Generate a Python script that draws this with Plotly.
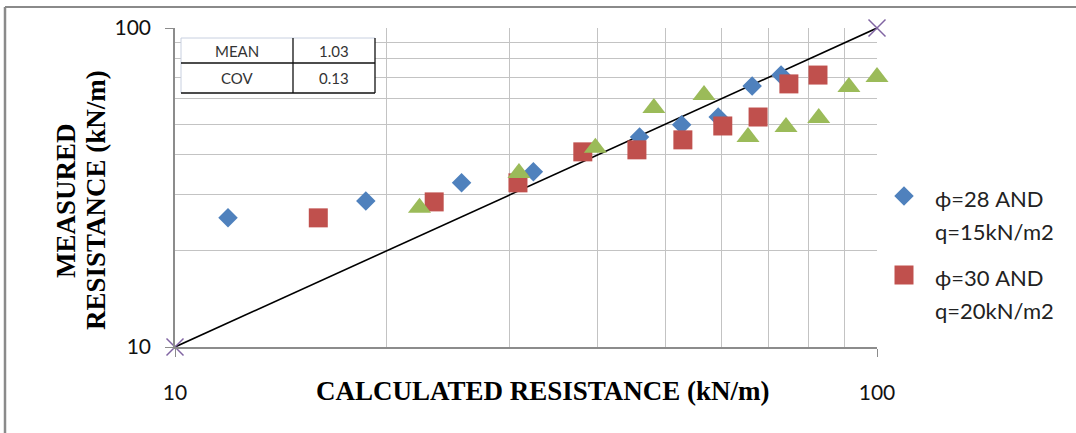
import plotly.graph_objects as go

# ---- data ----
calc_28 = [11.9, 18.7, 25.6, 32.4, 45.9, 52.7, 59.4, 66.4, 73.0]
meas_28 = [25.4, 28.7, 32.7, 35.4, 45.5, 49.7, 52.6, 65.8, 71.2]
calc_30 = [16.0, 23.4, 30.8, 38.1, 45.5, 52.9, 60.3, 67.7, 74.9, 82.4]
meas_30 = [25.4, 28.5, 32.7, 40.9, 41.5, 44.6, 49.3, 52.6, 66.8, 71.2]
calc_32 = [22.3, 30.9, 39.7, 48.1, 56.7, 65.5, 74.2, 82.6, 91.2, 100.0]
meas_32 = [27.3, 35.1, 42.1, 56.1, 61.7, 45.5, 48.9, 52.2, 65.3, 70.2]
line_x = [10, 100]
line_y = [10, 100]
tick_vals = [10, 100]
tick_text = ["10", "100"]
minor_vals = [20, 30, 40, 50, 60, 70, 80, 90]
stats_names = ["MEAN", "COV"]
stats_vals = ["1.03", "0.13"]
legend_lines = [["ϕ=28 AND", "q=15kN/m2"], ["ϕ=30 AND", "q=20kN/m2"]]

W, H = 1076, 433
L, R, T, B = 175, 877, 28, 347  # plot area in pixels

BLUE = "#4f81bd"
RED = "#c0504d"
GREEN = "#9bbb59"
PURPLE = "#8064a2"
GRID = "#c3c3c3"
AXIS = "#8c8c8c"

fig = go.Figure()

fig.add_trace(go.Scatter(x=line_x, y=line_y, mode="lines+markers", cliponaxis=False,
                         line=dict(color="black", width=1.6),
                         marker=dict(symbol="x-thin-open", size=17,
                                     line=dict(color=PURPLE, width=1.5), color=PURPLE),
                         showlegend=False, name="1:1"))
fig.add_trace(go.Scatter(x=calc_28, y=meas_28, mode="markers", cliponaxis=False,
                         marker=dict(symbol="diamond", size=15, color=BLUE),
                         name="ϕ=28 AND q=15kN/m2", showlegend=False))
fig.add_trace(go.Scatter(x=calc_30, y=meas_30, mode="markers", cliponaxis=False,
                         marker=dict(symbol="square", size=19, color=RED),
                         name="ϕ=30 AND q=20kN/m2", showlegend=False))
fig.add_trace(go.Scatter(x=calc_32, y=meas_32, mode="markers", cliponaxis=False,
                         marker=dict(symbol="triangle-up", size=20, color=GREEN),
                         name="Series 3", showlegend=False))

# legend markers on a pixel-coordinate overlay axis
fig.add_trace(go.Scatter(x=[904], y=[196], xaxis="x2", yaxis="y2", mode="markers",
                         marker=dict(symbol="diamond", size=15, color=BLUE),
                         showlegend=False, hoverinfo="skip"))
fig.add_trace(go.Scatter(x=[904], y=[275], xaxis="x2", yaxis="y2", mode="markers",
                         marker=dict(symbol="square", size=19, color=RED),
                         showlegend=False, hoverinfo="skip"))

fig.update_layout(
    template="none",
    width=W, height=H, autosize=False,
    margin=dict(l=0, r=0, t=0, b=0, pad=0),
    paper_bgcolor="white",
    plot_bgcolor="rgba(0,0,0,0)",
    showlegend=False,
    xaxis=dict(type="log", range=[1, 2], domain=[L / W, R / W], automargin=False,
               tickmode="array", tickvals=tick_vals, ticktext=tick_text,
               showgrid=True, gridcolor=GRID, gridwidth=1.3,
               minor=dict(tickvals=minor_vals, showgrid=True, gridcolor=GRID, gridwidth=1.3, ticks=""),
               showline=True, linecolor=AXIS, linewidth=1.5,
               ticks="outside", ticklen=8, tickcolor=AXIS, tickwidth=1.3,
               ticklabelstandoff=18,
               tickfont=dict(family="Lato", size=21, color="#111"),
               zeroline=False, anchor="y"),
    yaxis=dict(type="log", range=[1, 2], domain=[1 - B / H, 1 - T / H], automargin=False,
               tickmode="array", tickvals=tick_vals, ticktext=tick_text,
               showgrid=True, gridcolor=GRID, gridwidth=1.3,
               minor=dict(tickvals=minor_vals, showgrid=True, gridcolor=GRID, gridwidth=1.3, ticks=""),
               showline=True, linecolor=AXIS, linewidth=1.5,
               ticks="outside", ticklen=8, tickcolor=AXIS, tickwidth=1.3,
               ticklabelstandoff=10,
               tickfont=dict(family="Lato", size=21, color="#111"),
               zeroline=False, anchor="x"),
    xaxis2=dict(range=[0, W], domain=[0, 1], visible=False, anchor="y2",
                fixedrange=True, automargin=False),
    yaxis2=dict(range=[H, 0], domain=[0, 1], visible=False, anchor="x2",
                fixedrange=True, automargin=False),
)

shapes = []
# outer chart border (top and left visible)
shapes.append(dict(type="line", xref="x2", yref="y2", x0=5, y0=7, x1=W, y1=7,
                   line=dict(color="#8a8a8a", width=2), layer="above"))
shapes.append(dict(type="line", xref="x2", yref="y2", x0=5, y0=7, x1=5, y1=H,
                   line=dict(color="#8a8a8a", width=2.5), layer="above"))
# stats table
tx0, tx1, txm = 181, 375, 293
ty0, tym, ty1 = 38, 63, 93
shapes.append(dict(type="rect", xref="x2", yref="y2", x0=tx0, y0=ty0, x1=tx1, y1=ty1,
                   fillcolor="white", line=dict(width=0), layer="above"))
shapes.append(dict(type="line", xref="x2", yref="y2", x0=tx0, y0=ty0, x1=tx1, y1=ty0,
                   line=dict(color="#c8d0e0", width=1), layer="above"))
shapes.append(dict(type="line", xref="x2", yref="y2", x0=tx0, y0=ty0, x1=tx0, y1=ty1,
                   line=dict(color="#c8d0e0", width=1), layer="above"))
for (a, b, c, d) in [(tx0, tym, tx1, tym), (tx0, ty1, tx1, ty1),
                     (tx1, ty0, tx1, ty1), (txm, ty0, txm, ty1)]:
    shapes.append(dict(type="line", xref="x2", yref="y2", x0=a, y0=b, x1=c, y1=d,
                       line=dict(color="#111", width=1.3), layer="above"))
fig.update_layout(shapes=shapes)

ann = []
rows_y = [(ty0 + tym) / 2, (tym + ty1) / 2]
for i in range(2):
    ann.append(dict(xref="x2", yref="y2", x=(tx0 + txm) / 2, y=rows_y[i], text=stats_names[i],
                    showarrow=False, xanchor="center", yanchor="middle",
                    font=dict(family="Lato", size=15, color="#333")))
    ann.append(dict(xref="x2", yref="y2", x=(txm + tx1) / 2, y=rows_y[i], text=stats_vals[i],
                    showarrow=False, xanchor="center", yanchor="middle",
                    font=dict(family="Lato", size=15, color="#333")))

# axis titles
ann.append(dict(xref="x2", yref="y2", x=543, y=391, text="<b>CALCULATED RESISTANCE (kN/m)</b>",
                showarrow=False, xanchor="center", yanchor="middle",
                font=dict(family="Liberation Serif", size=27, color="black")))
ann.append(dict(xref="x2", yref="y2", x=66, y=201, text="<b>MEASURED</b>", textangle=-90,
                showarrow=False, xanchor="center", yanchor="middle",
                font=dict(family="Liberation Serif", size=27, color="black")))
ann.append(dict(xref="x2", yref="y2", x=96, y=200, text="<b>RESISTANCE (kN/m)</b>", textangle=-90,
                showarrow=False, xanchor="center", yanchor="middle",
                font=dict(family="Liberation Serif", size=27, color="black")))

# legend text
leg_y = [[198, 231], [277, 310]]
for i in range(2):
    for j in range(2):
        ann.append(dict(xref="x2", yref="y2", x=933, y=leg_y[i][j], text=legend_lines[i][j],
                        showarrow=False, xanchor="left", yanchor="middle",
                        font=dict(family="Lato", size=22, color="#222")))
fig.update_layout(annotations=ann)

fig.write_html("out.html")
